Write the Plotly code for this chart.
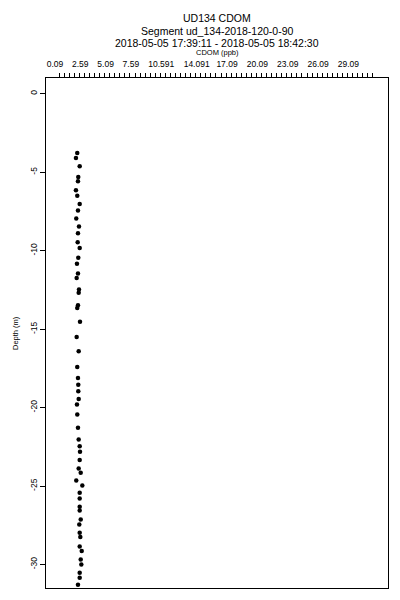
import plotly.graph_objects as go
import numpy as np

# CDOM (ppb) values and depths (m)
cdom = [2.29, 2.16, 2.53, 2.39, 2.36, 2.16, 2.29, 2.53, 2.36, 2.19,
        2.46, 2.36, 2.33, 2.53, 2.39, 2.26, 2.36, 2.23, 2.46, 2.43,
        2.36, 2.29, 2.56, 2.23, 2.43, 2.29, 2.36, 2.39, 2.39, 2.43,
        2.26, 2.29, 2.36, 2.43, 2.53, 2.56, 2.53, 2.43, 2.63, 2.19,
        2.79, 2.53, 2.53, 2.53, 2.53, 2.63, 2.49, 2.53, 2.59, 2.53,
        2.73, 2.63, 2.69, 2.53, 2.53, 2.36]
depth = [-3.78, -4.10, -4.62, -5.31, -5.58, -6.15, -6.50, -7.03, -7.45, -7.96,
         -8.47, -8.89, -9.46, -9.83, -10.46, -10.83, -11.46, -11.74, -12.48, -12.69,
         -13.48, -13.65, -14.54, -15.50, -16.41, -17.41, -18.11, -18.54, -18.96, -19.45,
         -19.81, -20.45, -21.29, -22.04, -22.46, -22.82, -23.35, -23.88, -24.16, -24.65,
         -24.97, -25.43, -25.80, -26.32, -26.56, -27.13, -27.45, -27.98, -28.25, -28.85,
         -29.15, -29.68, -30.00, -30.53, -30.85, -31.30]

x_tick_vals = [0.09, 2.59, 5.09, 7.59, 10.591, 14.091, 17.09, 20.09, 23.09, 26.09, 29.09]
x_tick_text = ["0.09", "2.59", "5.09", "7.59", "10.591", "14.091", "17.09", "20.09", "23.09", "26.09", "29.09"]
x_minor_ticks = list(np.round(np.arange(0.5, 31.75, 0.5), 2))
y_tick_vals = [0, -5, -10, -15, -20, -25, -30]
y_tick_text = ["0", "-5", "-10", "-15", "-20", "-25", "-30"]

title_lines = ["UD134 CDOM", "Segment ud_134-2018-120-0-90",
               "2018-05-05 17:39:11 - 2018-05-05 18:42:30"]
x_title = "CDOM (ppb)"
y_title = "Depth (m)"

FONT = "Liberation Sans, Arial, Helvetica, sans-serif"

fig = go.Figure()
fig.add_trace(go.Scatter(
    x=cdom, y=depth, mode="markers",
    marker=dict(color="black", size=4.5, line=dict(width=0)),
    showlegend=False, cliponaxis=True,
))

fig.update_layout(
    width=400, height=600,
    margin=dict(l=38, r=20, t=70, b=20, autoexpand=False),
    paper_bgcolor="white", plot_bgcolor="white",
    font=dict(family=FONT, color="black", size=9),
    xaxis=dict(
        side="top", range=[-0.8, 33.0], autorange=False,
        tickmode="array", tickvals=x_tick_vals, ticktext=x_tick_text,
        ticks="outside", ticklen=4, tickcolor="rgba(0,0,0,0)",
        ticklabelstandoff=3,
        tickfont=dict(size=8.5, family=FONT, color="black"),
        showgrid=False, zeroline=False,
        showline=True, linecolor="black", linewidth=1, mirror=True,
        minor=dict(tickmode="array", tickvals=x_minor_ticks, ticks="outside",
                   ticklen=4, tickcolor="black", tickwidth=1, showgrid=False),
        automargin=False,
    ),
    yaxis=dict(
        range=[-31.5, 1.0], autorange=False,
        tickmode="array", tickvals=y_tick_vals, ticktext=y_tick_text,
        ticks="outside", ticklen=5, tickcolor="black", tickwidth=1,
        tickangle=-90,
        tickfont=dict(size=8.5, family=FONT, color="black"),
        showgrid=False, zeroline=False,
        showline=True, linecolor="black", linewidth=1, mirror=True,
        automargin=False,
    ),
)

title_y_px = [10.5, 22.5, 34.5]
plot_top, plot_h = 70, 510
for txt, ypx in zip(title_lines, title_y_px):
    fig.add_annotation(
        text=txt, xref="paper", yref="paper", x=0.5,
        y=(plot_top + plot_h - ypx) / plot_h,
        xanchor="center", yanchor="middle", showarrow=False,
        font=dict(size=10.5, family=FONT, color="black"),
    )

fig.add_annotation(
    text=x_title, xref="paper", yref="paper", x=0.5,
    y=(plot_top + plot_h - 45) / plot_h,
    xanchor="center", yanchor="middle", showarrow=False,
    font=dict(size=7.5, family=FONT, color="black"),
)

fig.add_annotation(
    text=y_title, xref="paper", yref="paper",
    x=(7 - 38) / 342, y=0.5,
    xanchor="center", yanchor="middle", showarrow=False, textangle=-90,
    font=dict(size=7.5, family=FONT, color="black"),
)

fig.write_html("out.html")
